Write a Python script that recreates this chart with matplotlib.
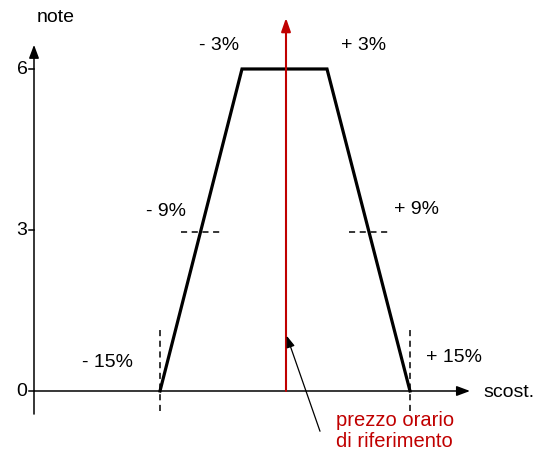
import matplotlib.pyplot as plt
import numpy as np

plt.rcParams['font.family'] = ['Liberation Sans', 'DejaVu Sans']

# trapezoid: deviation (%) vs score
scost = [-15, -3, 3, 15]
note = [0, 6, 6, 0]
yticks = [0, 3, 6]
half = [-9, 9]          # score 3 markers
labels = ['- 3%', '+ 3%', '- 9%', '+ 9%', '- 15%', '+ 15%']

# the sketch is not to scale: piecewise mapping % -> drawing position
brk = [-40, -30.2, -15, -3, 0, 3, 15, 22.3, 40]
pos = [-47, 34, 160, 242, 286, 327, 410, 470, 615]
fwd = lambda v: np.interp(v, brk, pos)
inv = lambda p: np.interp(p, pos, brk)

W, H = 537, 452
fig = plt.figure(figsize=(W / 100, H / 100), dpi=100)
ax = fig.add_axes([0, 0, 1, 1])
ax.set_xscale('function', functions=(fwd, inv))
ax.set_xlim(inv(0), inv(W))
ax.set_ylim(-1.118, 7.304)
ax.axis('off')

def txt(px, py, s, **kw):
    ax.text(px / W, 1 - py / H, s, transform=ax.transAxes, ha='center', va='center',
            fontsize=14, **kw)

ax_x0 = -30.2
arrow = dict(arrowstyle='-|>,head_length=0.8,head_width=0.3', color='black', lw=1.1,
             shrinkA=0, shrinkB=0)
ax.annotate('', xy=(22.3, 0), xytext=(ax_x0, 0), arrowprops=arrow)
ax.annotate('', xy=(ax_x0, 6.45), xytext=(ax_x0, -0.43), arrowprops=arrow)
for t in yticks:
    ax.plot([inv(29), ax_x0], [t, t], color='black', lw=1.1)
    txt(22, 392 - t * 53.67, str(t))

txt(56, 18, 'note')
txt(509, 393, 'scost.')

# red reference line
ax.annotate('', xy=(0, 6.95), xytext=(0, 0),
            arrowprops=dict(arrowstyle='-|>,head_length=0.8,head_width=0.28', color='#c00000',
                            lw=1.5, shrinkA=0, shrinkB=0))

# trapezoid
ax.plot(scost, note, color='black', lw=2.3, solid_joinstyle='miter')

# dashed markers
dash = dict(color='black', lw=1.1, ls=(0, (4, 3)))
for xv in half:
    ax.plot([inv(fwd(xv) - 20), inv(fwd(xv) + 22)], [2.97, 2.97], **dash)
for xv in (scost[0], scost[-1]):
    ax.plot([xv, xv], [-0.38, 1.13], **dash)

lpos = [(219, 45), (364, 45), (166, 212), (416, 210), (107, 363), (454, 358)]
for (px, py), s in zip(lpos, labels):
    txt(px, py, s)

# annotation
ax.annotate('', xy=(0.05, 1.03), xytext=(inv(320), -0.75),
            arrowprops=dict(arrowstyle='-|>,head_length=0.7,head_width=0.25', color='black',
                            lw=0.9, shrinkA=0, shrinkB=0))
ax.text(336 / W, 1 - 431 / H, 'prezzo orario\ndi riferimento', transform=ax.transAxes,
        ha='left', va='center', fontsize=14.5, color='#c00000', linespacing=1.15)

fig.savefig('out.png', dpi=100)
